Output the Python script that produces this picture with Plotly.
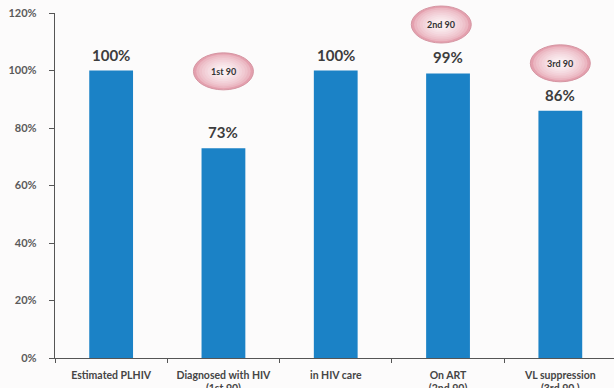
import plotly.graph_objects as go

# HIV care cascade
categories = ["Estimated PLHIV", "Diagnosed with HIV", "in HIV care", "On ART", "VL suppression"]
tick_labels = ["Estimated PLHIV", "Diagnosed with HIV<br>(1st 90)", "in HIV care",
               "On ART<br>(2nd 90)", "VL suppression<br>(3rd 90 )"]
values = [1.00, 0.73, 1.00, 0.99, 0.86]
value_labels = ["100%", "73%", "100%", "99%", "86%"]

# "90-90-90" callout bubbles: text, category index, vertical level
callout_text = ["1st 90", "2nd 90", "3rd 90"]
callout_x = [1.0, 2.94, 4.0]
callout_y = [0.997, 1.16, 1.025]

BAR_COLOR = "#1b82c6"
FONT = "Lato"

X_RANGE = [-0.5, 4.478]
Y_RANGE = [0, 1.2]

fig = go.Figure()
fig.add_trace(go.Bar(
    x=categories, y=values, marker=dict(color=BAR_COLOR, line=dict(width=0)),
    hoverinfo="skip",
))

# value labels above the bars
for c, v, t in zip(categories, values, value_labels):
    fig.add_annotation(x=c, y=v, text=t, showarrow=False, yanchor="bottom", yshift=5,
                       font=dict(family=FONT, size=15, color="#3d3d3d", weight="bold"))


def to_paper_x(x):
    return (x - X_RANGE[0]) / (X_RANGE[1] - X_RANGE[0])


def to_paper_y(y):
    return (y - Y_RANGE[0]) / (Y_RANGE[1] - Y_RANGE[0])


def mix(c1, c2, t):
    a = [int(c1[i:i + 2], 16) for i in (1, 3, 5)]
    b = [int(c2[i:i + 2], 16) for i in (1, 3, 5)]
    return "#" + "".join(f"{round(p + (q - p) * t):02x}" for p, q in zip(a, b))


# bubble sizes in paper units (plot area is 559 x 345 px)
half_w = 30 / 559
half_h = 18.5 / 345
EDGE, CENTER = "#e4a0ae", "#fbeef1"
steps = 9
for t, cx, cy in zip(callout_text, callout_x, callout_y):
    px, py = to_paper_x(cx), to_paper_y(cy)
    for i in range(steps):
        k = 1.0 - 0.75 * i / (steps - 1)
        frac = (i / (steps - 1)) ** 0.6
        fill = mix(EDGE, CENTER, frac)
        fig.add_shape(type="circle", xref="paper", yref="paper",
                      x0=px - half_w * k, x1=px + half_w * k,
                      y0=py - half_h * k, y1=py + half_h * k,
                      fillcolor=fill,
                      line=dict(color="#d595a2" if i == 0 else fill, width=1 if i == 0 else 0))
    fig.add_annotation(x=px, y=py, xref="paper", yref="paper", text=t, showarrow=False,
                       xanchor="center", yanchor="middle",
                       font=dict(family=FONT, size=9, color="#333333", weight="bold"))

fig.update_layout(
    width=614, height=388,
    margin=dict(l=55, r=0, t=13, b=30),
    paper_bgcolor="#fcfbfb", plot_bgcolor="#fcfbfb",
    showlegend=False, bargap=0.61,
)
fig.update_xaxes(
    type="category", range=X_RANGE, tickson="boundaries",
    tickvals=categories, ticktext=tick_labels,
    ticks="outside", ticklen=4, tickcolor="#555555",
    showline=True, linecolor="#555555", linewidth=1.3, showgrid=False,
    tickfont=dict(family=FONT, size=10.5, color="#454545", weight="bold"),
    ticklabelstandoff=7, automargin=False,
)
fig.update_yaxes(
    range=Y_RANGE, dtick=0.2, tickformat=".0%",
    ticks="outside", ticklen=5, tickcolor="#555555",
    showline=True, linecolor="#555555", linewidth=1.3, showgrid=False, zeroline=False,
    tickfont=dict(family=FONT, size=11, color="#5a5a5a", weight="bold"),
    ticklabelstandoff=10, automargin=False,
)

fig.write_html("out.html")
